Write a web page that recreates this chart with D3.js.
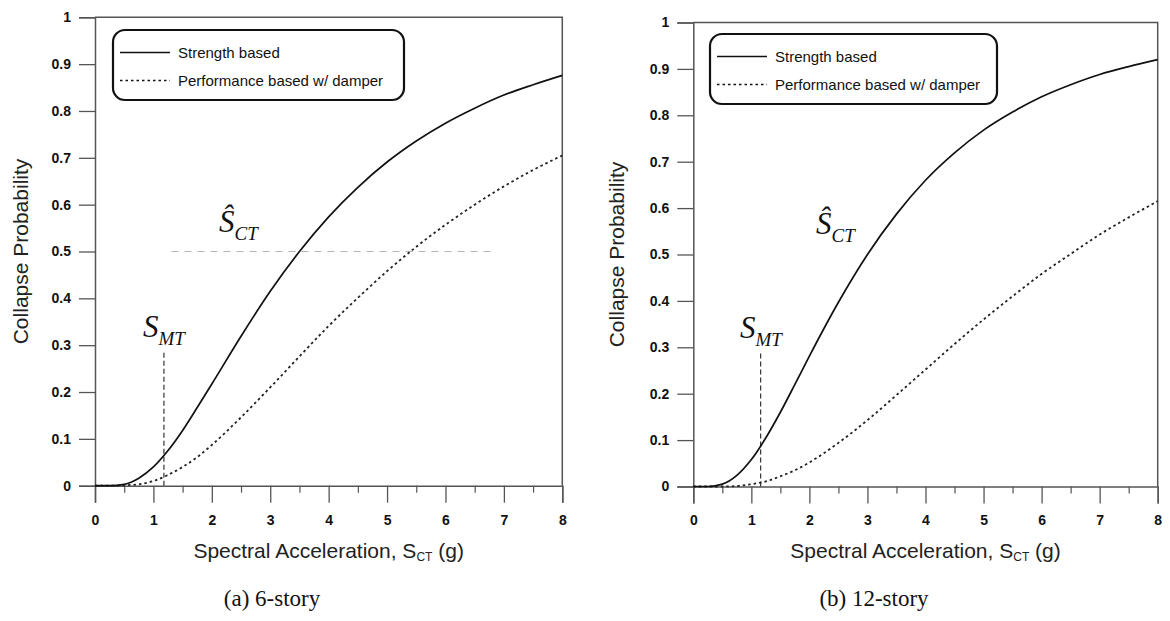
<!DOCTYPE html>
<html>
<head>
<meta charset="utf-8">
<script src="https://cdn.jsdelivr.net/npm/d3@7"></script>
<style>
  html, body { margin: 0; padding: 0; background: #fff; }
  svg { display: block; }
</style>
</head>
<body>
<svg id="chart" width="1170" height="621"></svg>
<script>
// Spectral acceleration sample points (g)
const sa = [0, 0.25, 0.5, 0.75, 1, 1.25, 1.5, 1.75, 2, 2.5, 3, 3.5, 4, 4.5, 5, 5.5, 6, 6.5, 7, 7.5, 8];

// (a) 6-story collapse fragility
const story6Strength    = [0, 0.000, 0.003, 0.016, 0.040, 0.075, 0.118, 0.167, 0.217, 0.319, 0.415, 0.500, 0.574, 0.637, 0.691, 0.736, 0.774, 0.806, 0.834, 0.856, 0.876];
const story6Performance = [0, 0.000, 0.001, 0.003, 0.010, 0.023, 0.040, 0.061, 0.087, 0.146, 0.210, 0.276, 0.341, 0.401, 0.458, 0.510, 0.557, 0.600, 0.639, 0.674, 0.705];

// (b) 12-story collapse fragility
const story12Strength    = [0, 0.000, 0.005, 0.024, 0.058, 0.105, 0.160, 0.220, 0.281, 0.397, 0.500, 0.587, 0.660, 0.719, 0.768, 0.807, 0.840, 0.866, 0.888, 0.905, 0.920];
const story12Performance = [0, 0.000, 0.000, 0.001, 0.005, 0.011, 0.022, 0.035, 0.052, 0.094, 0.143, 0.197, 0.252, 0.307, 0.360, 0.410, 0.458, 0.501, 0.543, 0.580, 0.615];

// Axis ticks
const xTicks = [0, 1, 2, 3, 4, 5, 6, 7, 8];
const xMinorTicks = [0.5, 1.5, 2.5, 3.5, 4.5, 5.5, 6.5, 7.5];
const yTicks = [0, 0.1, 0.2, 0.3, 0.4, 0.5, 0.6, 0.7, 0.8, 0.9, 1];
const yTickLabels = ["0", "0.1", "0.2", "0.3", "0.4", "0.5", "0.6", "0.7", "0.8", "0.9", "1"];

// Legend entries
const legendLabels = ["Strength based", "Performance based w/ damper"];

// Annotation values: MCE intensity and median collapse level
const smt6 = 1.18, smt12 = 1.16;
const smtTop6 = 0.29, smtTop12 = 0.288;
const medianLevel = 0.5;
const medianSpan6 = [1.31, 6.82];

const panels = [
  { caption: "(a) 6-story", strength: story6Strength, perf: story6Performance,
    left: 95, right: 562.3, top: 17.3, bottom: 485.7,
    smt: smt6, smtTop: smtTop6, medianSpan: medianSpan6,
    legend: { x: 113, y: 30, w: 291, h: 70 },
    smtLabel: [143, 337], sctLabel: [219, 232], capX: 272, yTitleX: 21 },
  { caption: "(b) 12-story", strength: story12Strength, perf: story12Performance,
    left: 693.3, right: 1157.7, top: 22.5, bottom: 486.5,
    smt: smt12, smtTop: smtTop12, medianSpan: null,
    legend: { x: 710, y: 34, w: 287, h: 70 },
    smtLabel: [740, 338], sctLabel: [816, 234], capX: 874, yTitleX: 617 }
];

const svg = d3.select("#chart");
const sans = "'Liberation Sans', Arial, sans-serif";
const serif = "'Liberation Serif', 'Times New Roman', serif";
const axisGray = "#555";

panels.forEach(p => {
  const x = d3.scaleLinear().domain([0, 8]).range([p.left, p.right]);
  const y = d3.scaleLinear().domain([0, 1]).range([p.bottom, p.top]);
  const g = svg.append("g");

  // top and right frame
  g.append("path")
    .attr("d", `M${x(0)},${y(1)}H${x(8)}V${y(0)}`)
    .attr("fill", "none").attr("stroke", axisGray).attr("stroke-width", 1.5);

  // y axis
  const yAxis = d3.axisLeft(y).tickValues(yTicks)
    .tickFormat((d, i) => yTickLabels[i]).tickSize(16).tickPadding(8);
  const ya = g.append("g").attr("transform", `translate(${x(0)},0)`).call(yAxis);
  ya.select(".domain").attr("stroke", axisGray).attr("stroke-width", 1.5);
  ya.selectAll(".tick line").attr("stroke", axisGray).attr("stroke-width", 1.3);
  ya.selectAll(".tick text").attr("font-family", sans).attr("font-weight", "bold")
    .attr("font-size", 14).attr("fill", "#111");

  // x axis, major ticks
  const xAxis = d3.axisBottom(x).tickValues(xTicks).tickSize(17).tickPadding(12);
  const xa = g.append("g").attr("transform", `translate(0,${y(0)})`).call(xAxis);
  xa.select(".domain").attr("stroke", axisGray).attr("stroke-width", 1.5);
  xa.selectAll(".tick line").attr("stroke", axisGray).attr("stroke-width", 1.3);
  xa.selectAll(".tick text").attr("font-family", sans).attr("font-weight", "bold")
    .attr("font-size", 14).attr("fill", "#111");

  // x axis, minor ticks
  const xm = d3.axisBottom(x).tickValues(xMinorTicks).tickSize(7).tickFormat("");
  const xma = g.append("g").attr("transform", `translate(0,${y(0)})`).call(xm);
  xma.select(".domain").remove();
  xma.selectAll(".tick line").attr("stroke", axisGray).attr("stroke-width", 1.2);

  // median collapse reference line
  if (p.medianSpan) {
    g.append("line")
      .attr("x1", x(p.medianSpan[0])).attr("x2", x(p.medianSpan[1]))
      .attr("y1", y(medianLevel)).attr("y2", y(medianLevel))
      .attr("stroke", "#b5b5b5").attr("stroke-width", 1).attr("stroke-dasharray", "7,6");
  }

  // S_MT marker
  g.append("line")
    .attr("x1", x(p.smt)).attr("x2", x(p.smt))
    .attr("y1", y(0)).attr("y2", y(p.smtTop))
    .attr("stroke", "#333").attr("stroke-width", 1.2).attr("stroke-dasharray", "5,3");

  // fragility curves
  const line = d3.line().x((d, i) => x(sa[i])).y(d => y(d)).curve(d3.curveMonotoneX);
  g.append("path").datum(p.perf).attr("d", line)
    .attr("fill", "none").attr("stroke", "#222").attr("stroke-width", 1.8)
    .attr("stroke-dasharray", "2.5,3");
  g.append("path").datum(p.strength).attr("d", line)
    .attr("fill", "none").attr("stroke", "#111").attr("stroke-width", 1.7);

  // legend
  const L = p.legend;
  const lg = g.append("g").attr("transform", `translate(${L.x},${L.y})`);
  lg.append("rect").attr("width", L.w).attr("height", L.h).attr("rx", 12)
    .attr("fill", "#fff").attr("stroke", "#111").attr("stroke-width", 2.2);
  legendLabels.forEach((lab, i) => {
    const ly = i === 0 ? 22.5 : 50.5;
    lg.append("line").attr("x1", 7).attr("x2", 57).attr("y1", ly).attr("y2", ly)
      .attr("stroke", "#111").attr("stroke-width", i === 0 ? 1.6 : 1.4)
      .attr("stroke-dasharray", i === 0 ? null : "2.5,3");
    lg.append("text").attr("x", 65).attr("y", ly + 5)
      .attr("font-family", sans).attr("font-size", 15).attr("fill", "#111")
      .text(lab);
  });

  // S_MT label
  const smt = g.append("text").attr("x", p.smtLabel[0]).attr("y", p.smtLabel[1])
    .attr("font-family", serif).attr("font-style", "italic").attr("font-size", 31).attr("fill", "#111");
  smt.append("tspan").text("S");
  smt.append("tspan").attr("font-size", 19).attr("dy", 8).text("MT");

  // median collapse capacity label
  const sct = g.append("text").attr("x", p.sctLabel[0]).attr("y", p.sctLabel[1])
    .attr("font-family", serif).attr("font-style", "italic").attr("font-size", 31).attr("fill", "#111");
  sct.append("tspan").text("\u015C");
  sct.append("tspan").attr("font-size", 19).attr("dy", 8).text("CT");

  // axis titles
  g.append("text")
    .attr("transform", `translate(${p.yTitleX},${(p.top + p.bottom) / 2}) rotate(-90)`)
    .attr("text-anchor", "middle").attr("dy", "0.35em")
    .attr("font-family", sans).attr("font-size", 21).attr("fill", "#222")
    .text("Collapse Probability");

  const xt = g.append("text").attr("x", (p.left + p.right) / 2).attr("y", 558)
    .attr("text-anchor", "middle").attr("font-family", sans).attr("font-size", 21).attr("fill", "#222");
  xt.append("tspan").text("Spectral Acceleration, S");
  xt.append("tspan").attr("font-size", 12).attr("dy", 3).text("CT");
  xt.append("tspan").attr("dy", -3).text(" (g)");

  // caption
  g.append("text").attr("x", p.capX).attr("y", 606).attr("text-anchor", "middle")
    .attr("font-family", serif).attr("font-size", 23).attr("fill", "#111")
    .text(p.caption);
});
</script>
</body>
</html>
